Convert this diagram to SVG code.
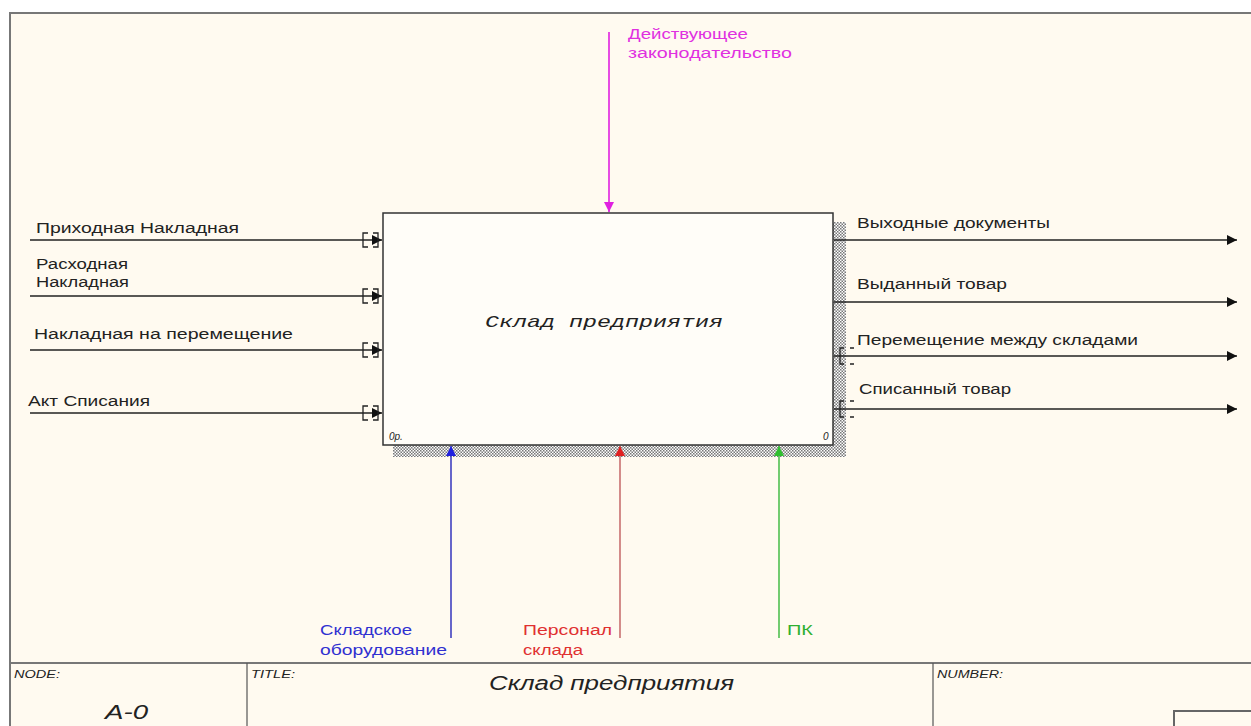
<svg xmlns="http://www.w3.org/2000/svg" width="1251" height="726" viewBox="0 0 1251 726">
<defs>
<style>
.lbl{font-family:"Liberation Sans",Arial,sans-serif;font-size:15.5px;fill:#222}
.frame{fill:none;stroke:#777;stroke-width:2}
.arr{stroke:#222;stroke-width:1.6;fill:none}
.tun{stroke:#222;stroke-width:1.3;fill:none}
.small{font-family:"Liberation Sans",Arial,sans-serif;font-size:10px;font-style:italic;fill:#222}
</style>
<pattern id="hatch" width="3" height="3" patternUnits="userSpaceOnUse">
<rect width="3" height="3" fill="#fff"/>
<path d="M0,0h1.5v1.5h-1.5zM1.5,1.5h1.5v1.5h-1.5z" fill="#777"/>
</pattern>
<marker id="ah" viewBox="0 0 10 10" refX="10" refY="5" markerWidth="14" markerHeight="10" markerUnits="userSpaceOnUse" orient="auto"><path d="M0,0L10,5L0,10z" fill="#111"/></marker>
<marker id="ahM" viewBox="0 0 10 10" refX="10" refY="5" markerWidth="12" markerHeight="10" markerUnits="userSpaceOnUse" orient="auto"><path d="M0,0L10,5L0,10z" fill="#e020e0"/></marker>
<marker id="ahB" viewBox="0 0 10 10" refX="10" refY="5" markerWidth="12" markerHeight="10" markerUnits="userSpaceOnUse" orient="auto"><path d="M0,0L10,5L0,10z" fill="#2020e0"/></marker>
<marker id="ahR" viewBox="0 0 10 10" refX="10" refY="5" markerWidth="12" markerHeight="10" markerUnits="userSpaceOnUse" orient="auto"><path d="M0,0L10,5L0,10z" fill="#e02020"/></marker>
<marker id="ahG" viewBox="0 0 10 10" refX="10" refY="5" markerWidth="12" markerHeight="10" markerUnits="userSpaceOnUse" orient="auto"><path d="M0,0L10,5L0,10z" fill="#30c030"/></marker>
</defs>
<rect width="1251" height="726" fill="#fff"/>
<rect x="10" y="13" width="1241" height="713" fill="#fffaf0"/>
<path d="M10,726V13H1251" class="frame"/>

<g id="box">
<rect x="833" y="222" width="13" height="235" fill="url(#hatch)"/>
<rect x="393" y="445" width="453" height="12" fill="url(#hatch)"/>
<rect x="383" y="213" width="450" height="232" fill="#fffdf8" stroke="#333" stroke-width="1.5"/>
<text x="485" y="327" font-family="Liberation Mono,monospace" font-style="italic" font-size="17" fill="#222" textLength="238" lengthAdjust="spacingAndGlyphs">Склад предприятия</text>
<text x="389" y="440" class="small">0р.</text>
<text x="823" y="440" class="small">0</text>
</g>

<g id="connectors">
<line x1="30" y1="240" x2="382" y2="240" class="arr" marker-end="url(#ah)"/>
<line x1="30" y1="296" x2="382" y2="296" class="arr" marker-end="url(#ah)"/>
<line x1="30" y1="350" x2="382" y2="350" class="arr" marker-end="url(#ah)"/>
<line x1="30" y1="413" x2="382" y2="413" class="arr" marker-end="url(#ah)"/>
<path class="tun" d="M368,233h-5v14h5M373,233h5v14h-5"/>
<path class="tun" d="M368,289h-5v14h5M373,289h5v14h-5"/>
<path class="tun" d="M368,343h-5v14h5M373,343h5v14h-5"/>
<path class="tun" d="M368,406h-5v14h5M373,406h5v14h-5"/>
<line x1="834" y1="240" x2="1237" y2="240" class="arr" marker-end="url(#ah)"/>
<line x1="834" y1="302" x2="1237" y2="302" class="arr" marker-end="url(#ah)"/>
<line x1="834" y1="356" x2="1237" y2="356" class="arr" marker-end="url(#ah)"/>
<line x1="834" y1="409" x2="1237" y2="409" class="arr" marker-end="url(#ah)"/>
<path class="tun" d="M844,348h-4v16h4M850,348h4M850,364h4"/>
<path class="tun" d="M844,401h-4v16h4M850,401h4M850,417h4"/>
<line x1="609" y1="32" x2="609" y2="212" stroke="#e020e0" stroke-width="1.6" marker-end="url(#ahM)"/>
<line x1="451" y1="638" x2="451" y2="446" stroke="#4040c0" stroke-width="1.6" marker-end="url(#ahB)"/>
<line x1="620" y1="638" x2="620" y2="446" stroke="#c87070" stroke-width="1.6" marker-end="url(#ahR)"/>
<line x1="779" y1="638" x2="779" y2="446" stroke="#50c050" stroke-width="1.6" marker-end="url(#ahG)"/>
</g>

<g id="labels">
<text x="36" y="233" class="lbl" textLength="203" lengthAdjust="spacingAndGlyphs">Приходная Накладная</text>
<text x="36" y="269" class="lbl" textLength="92" lengthAdjust="spacingAndGlyphs">Расходная</text>
<text x="36" y="287" class="lbl" textLength="93" lengthAdjust="spacingAndGlyphs">Накладная</text>
<text x="34" y="339" class="lbl" textLength="259" lengthAdjust="spacingAndGlyphs">Накладная на перемещение</text>
<text x="28" y="406" class="lbl" textLength="122" lengthAdjust="spacingAndGlyphs">Акт Списания</text>
<text x="857" y="228" class="lbl" textLength="193" lengthAdjust="spacingAndGlyphs">Выходные документы</text>
<text x="857" y="289" class="lbl" textLength="150" lengthAdjust="spacingAndGlyphs">Выданный товар</text>
<text x="857" y="345" class="lbl" textLength="281" lengthAdjust="spacingAndGlyphs">Перемещение между складами</text>
<text x="859" y="394" class="lbl" textLength="152" lengthAdjust="spacingAndGlyphs">Списанный товар</text>
<text x="628" y="39" class="lbl" style="fill:#e030e0" textLength="120" lengthAdjust="spacingAndGlyphs">Действующее</text>
<text x="628" y="58" class="lbl" style="fill:#e030e0" textLength="164" lengthAdjust="spacingAndGlyphs">законодательство</text>
<text x="320" y="635" class="lbl" style="fill:#3030d0" textLength="92" lengthAdjust="spacingAndGlyphs">Складское</text>
<text x="320" y="655" class="lbl" style="fill:#3030d0" textLength="127" lengthAdjust="spacingAndGlyphs">оборудование</text>
<text x="523" y="635" class="lbl" style="fill:#e03030" textLength="89" lengthAdjust="spacingAndGlyphs">Персонал</text>
<text x="523" y="655" class="lbl" style="fill:#e03030" textLength="60" lengthAdjust="spacingAndGlyphs">склада</text>
<text x="787" y="635" class="lbl" style="fill:#30b030" textLength="26" lengthAdjust="spacingAndGlyphs">ПК</text>
</g>

<g id="footer">
<line x1="10" y1="663" x2="1251" y2="663" stroke="#777" stroke-width="2"/>
<line x1="247" y1="663" x2="247" y2="726" stroke="#555" stroke-width="1.2"/>
<line x1="933" y1="663" x2="933" y2="726" stroke="#555" stroke-width="1.2"/>
<path d="M1174,726V711H1251" fill="none" stroke="#666" stroke-width="2"/>
<text x="14" y="678" class="small" textLength="46" lengthAdjust="spacingAndGlyphs">NODE:</text>
<text x="251" y="678" class="small" textLength="44" lengthAdjust="spacingAndGlyphs">TITLE:</text>
<text x="937" y="678" class="small" textLength="66" lengthAdjust="spacingAndGlyphs">NUMBER:</text>
<text x="105" y="719" font-family="Liberation Sans,Arial,sans-serif" font-style="italic" font-size="20" fill="#222" textLength="43" lengthAdjust="spacingAndGlyphs">A-0</text>
<text x="489" y="690" font-family="Liberation Sans,Arial,sans-serif" font-style="italic" font-size="20" fill="#222" textLength="245" lengthAdjust="spacingAndGlyphs">Склад предприятия</text>
</g>
</svg>
